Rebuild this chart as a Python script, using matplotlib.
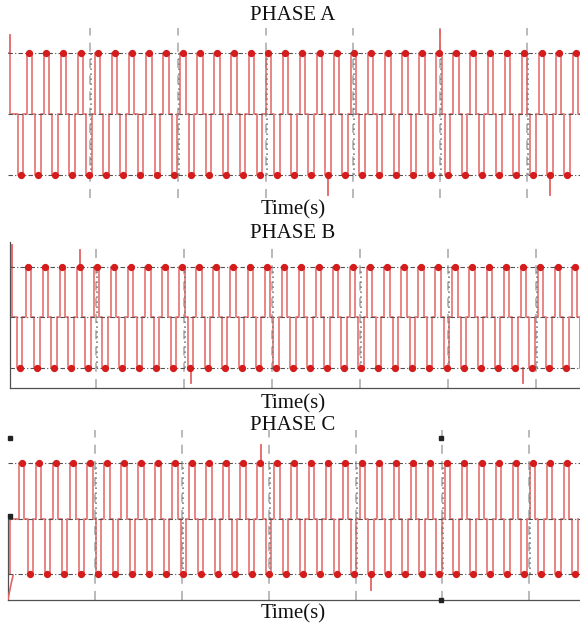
import matplotlib
matplotlib.use("Agg")
import matplotlib.pyplot as plt

plt.rcParams['font.family'] = ['Liberation Serif', 'DejaVu Serif']

# times in ms, levels in per-unit
phase_a_tops = [3.72, 6.71, 9.69, 12.68, 15.66, 18.65, 21.63, 24.62, 27.60, 30.59,
                33.57, 36.56, 39.54, 42.53, 45.51, 48.50, 51.48, 54.47, 57.45, 60.44,
                63.42, 66.41, 69.39, 72.38, 75.36, 78.35, 81.33, 84.32, 87.30, 90.29,
                93.27, 96.26, 99.24]
phase_b_tops = [3.21, 6.21, 9.20, 12.20, 15.19, 18.19, 21.18, 24.18, 27.17, 30.17,
                33.16, 36.16, 39.15, 42.15, 45.14, 48.14, 51.13, 54.13, 57.12, 60.12,
                63.11, 66.11, 69.10, 72.10, 75.09, 78.09, 81.08, 84.08, 87.07, 90.07,
                93.06, 96.06, 99.05]
phase_c_tops = [2.40, 5.38, 8.35, 11.33, 14.31, 17.29, 20.26, 23.24, 26.22, 29.19,
                32.17, 35.15, 38.12, 41.10, 44.08, 47.06, 50.03, 53.01, 55.99, 58.96,
                61.94, 64.92, 67.89, 70.87, 73.85, 76.83, 79.80, 82.78, 85.76, 88.73,
                91.71, 94.69, 97.66]
pulse_width = 0.95

phase_a_grid = [14.34, 29.72, 45.10, 60.31, 75.52, 90.73]
phase_b_grid = [15.09, 30.53, 45.96, 61.40, 76.84, 92.28]
phase_c_grid = [15.21, 30.42, 45.63, 60.84, 75.87, 91.08]

# spikes: (time, from level, peak)
phase_a_spikes = [(0.3, 1, 1.30), (75.52, 1, 1.38), (56.0, -1, -1.33), (94.76, -1, -1.33)]
phase_b_spikes = [(0.35, 1, 1.44), (12.28, 1, 1.34), (31.67, -1, -1.30), (90.0, -1, -1.30)]
phase_c_spikes = [(44.30, 1, 1.32), (63.50, -1, -1.29)]

phase_a_ylim = (-1.377, 1.41)
phase_b_ylim = (-1.396, 1.495)
phase_c_ylim = (-1.468, 1.595)

W, H = 580, 623
fig = plt.figure(figsize=(W / 100, H / 100), dpi=100)

RED = '#e46464'
DOT = '#d41c1c'


def waveform(tops, start_level):
    xs, ys = [0.0], [start_level]
    if start_level != 0:
        xs += [0.4, 0.4]
        ys += [start_level, 0]
    half = (tops[1] - tops[0]) / 2
    bottoms = [t - half for t in tops] + [tops[-1] + half]
    pulses = sorted([(b, -1) for b in bottoms if b - pulse_width / 2 > 0.5] + [(t, 1) for t in tops])
    for c, lvl in pulses:
        a, b = c - pulse_width / 2, c + pulse_width / 2
        xs += [a, a, b, b]
        ys += [0, lvl, lvl, 0]
    return xs, ys, pulses


def draw_phase(rect, tops, grid, spikes, ylim, start_level, frame):
    ax = fig.add_axes(rect)
    ax.set_xlim(0, 100)
    ax.set_ylim(*ylim)
    for g in grid:
        ax.axvline(g, color='#b4b4b4', lw=1.3, ls=(0, (5, 4)), zorder=1)
        ax.plot([g + 0.25, g + 0.25], [-1, 1], color='#808080', lw=1.2, ls=(0, (1, 2)), zorder=4)
    xs, ys, pulses = waveform(tops, start_level)
    ax.plot(xs, ys, color=RED, lw=1.3, alpha=0.85, zorder=2)
    for lvl in (1, 0, -1):
        ax.axhline(lvl, color='#505050', lw=0.8, ls=(0, (4, 2, 1, 2)), zorder=3)
    ax.plot([c for c, _ in pulses], [l for _, l in pulses], 'o', color=DOT, ms=4.2, zorder=5)
    for t, base, peak in spikes:
        ax.plot([t, t], [base, peak], color=RED, lw=1.3, zorder=2)
    for s in ax.spines.values():
        s.set_visible(False)
    for side in frame:
        ax.spines[side].set_visible(True)
        ax.spines[side].set_color('#505050')
        ax.spines[side].set_linewidth(0.9)
    ax.set_xticks([])
    ax.set_yticks([])
    ax.patch.set_alpha(0)
    return ax


draw_phase([8 / W, 1 - 198 / H, 572 / W, 170 / H], phase_a_tops, phase_a_grid,
           phase_a_spikes, phase_a_ylim, 1, ())
draw_phase([10 / W, 1 - 388 / H, 570 / W, 146 / H], phase_b_tops, phase_b_grid,
           phase_b_spikes, phase_b_ylim, 1, ('left', 'bottom'))
ax_c = draw_phase([8 / W, 1 - 600 / H, 572 / W, 170 / H], phase_c_tops, phase_c_grid,
                  phase_c_spikes, phase_c_ylim, -1, ('bottom',))

# start-up transient and markers on phase C
ax_c.plot([0.0, 0.0], [0.0, -1.46], color='#505050', lw=0.9, zorder=2, clip_on=False)
ax_c.plot([0.0, 0.3, 0.6, 0.9], [-1.46, -1.30, -1.15, -1.02], color=RED, lw=1.2, zorder=2)
ax_c.plot([75.7, 75.7, 0.35, 0.35], [1.45, -1.46, 1.45, 0.05], 's', color='#222222', ms=2.5,
          zorder=6, clip_on=False)

labels = [('PHASE A', 16), ('Time(s)', 210), ('PHASE B', 233),
          ('Time(s)', 404), ('PHASE C', 426), ('Time(s)', 614)]
for txt, y in labels:
    fig.text(293 / W, 1 - y / H, txt, ha='center', va='center', fontsize=15, color='#111111')

fig.savefig('out.png', dpi=100)
